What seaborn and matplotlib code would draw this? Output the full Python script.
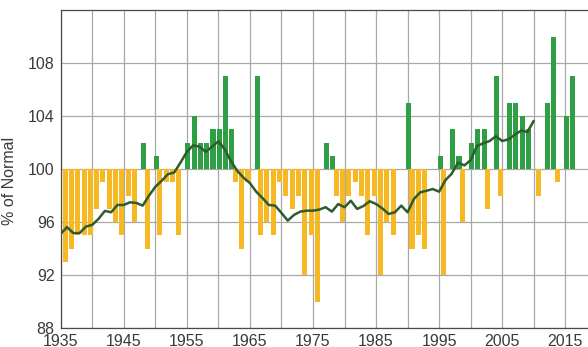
import numpy as np
import pandas as pd
import matplotlib
matplotlib.use("Agg")
import matplotlib.pyplot as plt
import seaborn as sns
from matplotlib.ticker import FixedLocator, FuncFormatter

# Annual values, % of normal
bar_years = list(range(1936, 2017))
pct_normal = [
    93, 94, 95, 95, 95, 97, 99, 97, 96, 95,      # 1936-1945
    98, 96, 102, 94, 101, 95, 99, 99, 95, 102,   # 1946-1955
    104, 102, 102, 103, 103, 107, 103, 99, 94, 99,  # 1956-1965
    107, 95, 96, 95, 99, 98, 97, 98, 92, 95,     # 1966-1975
    90, 102, 101, 98, 96, 98, 99, 98, 95, 98,    # 1976-1985
    92, 96, 95, 100, 105, 94, 95, 94, 100, 101,  # 1986-1995
    92, 103, 101, 96, 102, 103, 103, 97, 107, 98,  # 1996-2005
    105, 105, 104, 103, 100, 98, 105, 110, 99, 104,  # 2006-2015
    107,                                         # 2016
]

# Smoothed trend, % of normal
trend_years = list(range(1935, 2011))
trend_pct = [
    95.12, 95.63, 95.18, 95.18, 95.67, 95.80, 96.25, 96.85, 96.75, 97.30,
    97.30, 97.50, 97.45, 97.25, 98.00, 98.67, 99.12, 99.62, 99.75, 100.50,
    101.30, 101.80, 101.70, 101.30, 101.70, 102.10, 101.50, 100.60, 99.87, 99.35,
    98.95, 98.30, 97.82, 97.30, 97.25, 96.70, 96.12, 96.55, 96.80, 96.87,
    96.87, 96.95, 97.13, 96.80, 97.37, 97.13, 97.62, 97.00, 97.22, 97.58,
    97.37, 97.04, 96.62, 96.75, 97.25, 96.75, 97.75, 98.25, 98.37, 98.50,
    98.30, 99.17, 99.66, 100.50, 100.28, 100.68, 101.75, 101.95, 102.12, 102.48,
    102.12, 102.25, 102.60, 102.90, 102.80, 103.64,
]

y_ticks = [88, 92, 96, 100, 104, 108]
x_labels = list(range(1935, 2016, 10))
NORMAL = 100

YELLOW = "#F6B923"
GREEN = "#2E9F45"
LINE = "#2F5B2E"

bars = pd.DataFrame({"year": bar_years, "pct": pct_normal})
bars["dev"] = bars["pct"] - NORMAL
above = bars[bars["dev"] > 0].copy()
below = bars[bars["dev"] < 0].copy()
# the two series overlap by about half a bar, below-normal on the left
below["x"] = below["year"] - 0.30
above["x"] = above["year"] + 0.15

trend = pd.DataFrame({"year": trend_years, "dev": np.array(trend_pct) - NORMAL})

sns.set_theme(style="white")
plt.rcParams["font.family"] = ["Liberation Sans", "DejaVu Sans"]

fig = plt.figure(figsize=(5.88, 3.47), dpi=100)
ax = fig.add_axes([60.7 / 588, 18.7 / 347, 536.1 / 588, 318.3 / 347])

sns.barplot(data=below, x="x", y="dev", native_scale=True, width=0.8,
            color=YELLOW, saturation=1, linewidth=0, errorbar=None, ax=ax)
sns.barplot(data=above, x="x", y="dev", native_scale=True, width=0.8,
            color=GREEN, saturation=1, linewidth=0, errorbar=None, ax=ax)
sns.lineplot(data=trend, x="year", y="dev", color=LINE, linewidth=1.8, ax=ax)

ax.set_xlim(1935, 2020)
ax.set_ylim(88 - NORMAL, 112 - NORMAL)

ax.xaxis.set_major_locator(FixedLocator(x_labels))
ax.xaxis.set_minor_locator(FixedLocator([y + 5 for y in x_labels]))
ax.yaxis.set_major_locator(FixedLocator([t - NORMAL for t in y_ticks]))
ax.yaxis.set_major_formatter(FuncFormatter(lambda v, p: f"{v + NORMAL:.0f}"))

ax.set_axisbelow(True)
ax.grid(True, which="both", axis="x", color="#a8a8a8", linewidth=0.9)
ax.grid(True, which="major", axis="y", color="#a8a8a8", linewidth=0.9)

ax.tick_params(axis="both", which="major", labelsize=11.5, colors="#3a3a3a",
               length=2.5, width=0.8, pad=1.8)
ax.tick_params(axis="x", which="minor", length=0)

for side in ["top", "left", "bottom", "right"]:
    ax.spines[side].set_color("#4a4a4a")
    ax.spines[side].set_linewidth(0.9)

ax.set_xlabel("")
ax.set_ylabel("% of Normal", fontsize=11.5, color="#3a3a3a")
ax.yaxis.set_label_coords(-0.082, 0.463)

fig.savefig("out.png", dpi=100)
